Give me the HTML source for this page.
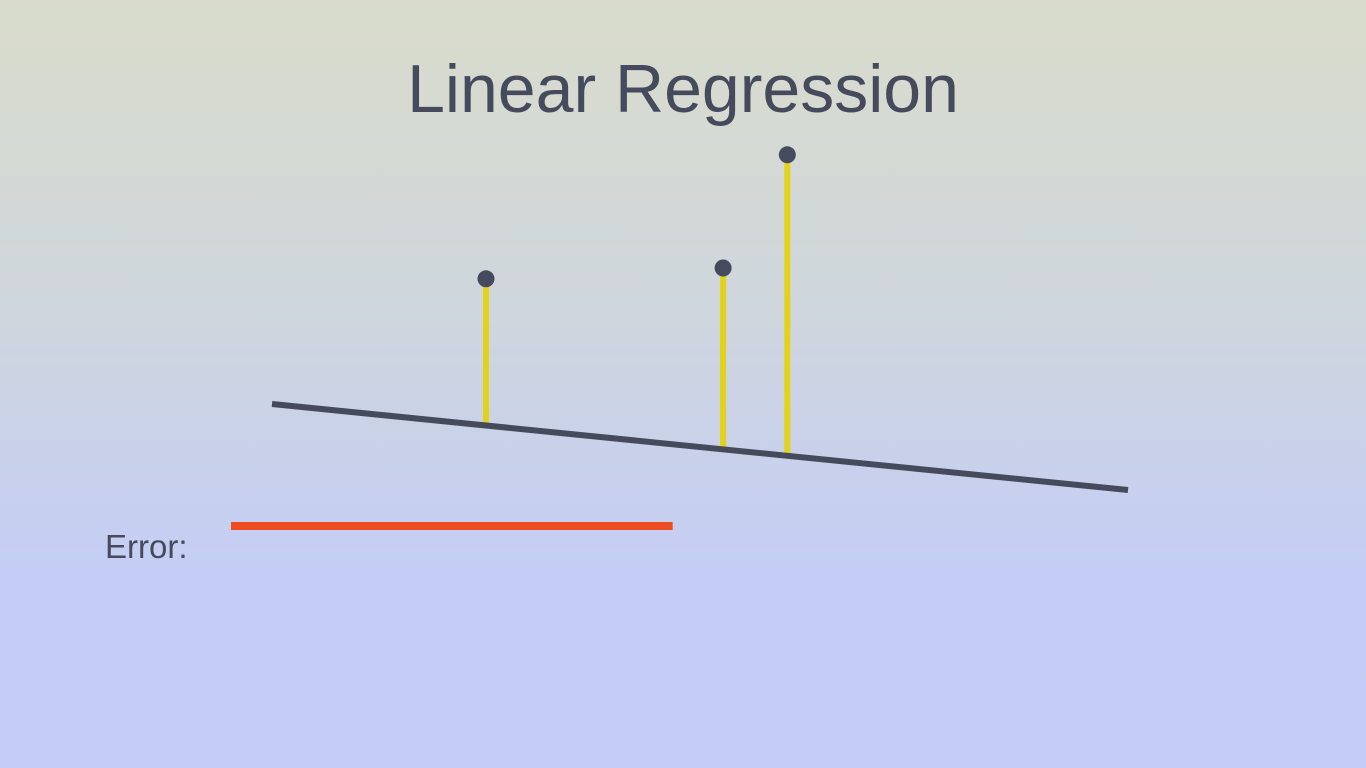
<!DOCTYPE html>
<html><head><meta charset="utf-8"><style>
html,body{margin:0;padding:0;width:1366px;height:768px;overflow:hidden}
body{background:linear-gradient(180deg,#d9dccb 0%,#cfd6dd 40%,#c4cdf5 75%,#c3cdf8 100%);font-family:"Liberation Sans",sans-serif}
</style></head><body>
<svg id="chart" width="1366" height="768" xmlns="http://www.w3.org/2000/svg" style="position:absolute;left:0;top:0">
<text x="683" y="112" text-anchor="middle" font-family="Liberation Sans, sans-serif" font-size="68" fill="#454b5c">Linear Regression</text>
<text x="105" y="558" font-family="Liberation Sans, sans-serif" font-size="33" fill="#454b5c">Error:</text>
<g id="marks"></g>
</svg>
<script>
const pointX = [2.5, 5.27, 6.02];
const pointY = [5.53, 5.8, 8.63];
const lineIntercept = 2.4;
const lineSlope = -0.215;
const errorValue = 5.16;

const xs = v => 272 + v * 85.6;
const ys = v => 500 - v * 40;
const errScale = v => 231 + v * 85.6;
const lineY = x => lineIntercept + lineSlope * x;
const NS = "http://www.w3.org/2000/svg";
const g = document.getElementById('marks');
function mk(tag, attrs){const e=document.createElementNS(NS,tag);for(const k in attrs)e.setAttribute(k,attrs[k]);g.appendChild(e);return e;}

for (let i=0;i<pointX.length;i++){
  const r = mk('line',{x1:xs(pointX[i]),y1:ys(pointY[i]),x2:xs(pointX[i]),y2:ys(lineY(pointX[i])),stroke:'#e2d21a','stroke-width':6});
  
  
}
const rl = mk('line',{x1:xs(0),y1:ys(lineY(0)),x2:xs(10),y2:ys(lineY(10)),stroke:'#454b5c','stroke-width':6});


for (let i=0;i<pointX.length;i++){
  const c = mk('circle',{cx:xs(pointX[i]),cy:ys(pointY[i]),r:8.5,fill:'#454b5c'});
  
  
}
const eb = mk('line',{x1:errScale(0),y1:526,x2:errScale(errorValue),y2:526,stroke:'#ee4c22','stroke-width':8});


</script>
</body></html>
